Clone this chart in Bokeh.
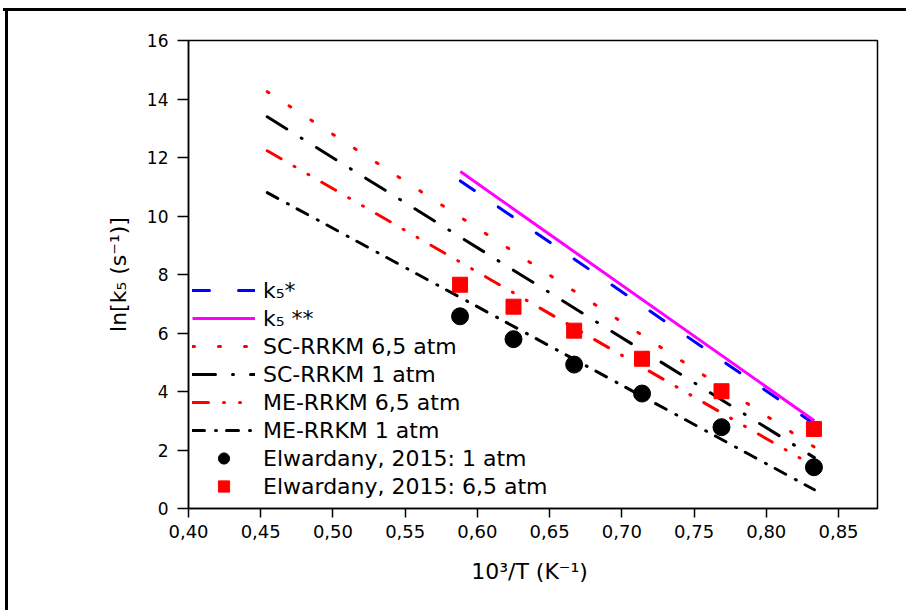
from bokeh.plotting import figure
from bokeh.models import (Range1d, FixedTicker, CustomJSTickFormatter, Legend, LegendItem, Label)
from bokeh.embed import file_html
from bokeh.resources import INLINE

# ---------------- data ----------------
x_ticks = [0.40, 0.45, 0.50, 0.55, 0.60, 0.65, 0.70, 0.75, 0.80, 0.85]
y_ticks = [0, 2, 4, 6, 8, 10, 12, 14, 16]

x_exp = [0.588, 0.625, 0.667, 0.714, 0.769, 0.833]
elw_1atm = [6.57, 5.79, 4.92, 3.93, 2.78, 1.41]
elw_65atm = [7.65, 6.90, 6.08, 5.12, 4.01, 2.72]

x_rrkm = [0.4545, 0.8333]
sc_65 = [14.25, 2.10]
sc_1 = [13.39, 1.74]
me_65 = [12.23, 1.44]
me_1 = [10.80, 0.64]

x_k5 = [0.5882, 0.8333]
k5_star = [11.20, 2.89]
k5_2star = [11.52, 3.00]

labels = ["k\u2085*", "k\u2085 **", "SC-RRKM 6,5 atm", "SC-RRKM 1 atm",
          "ME-RRKM 6,5 atm", "ME-RRKM 1 atm",
          "Elwardany, 2015: 1 atm", "Elwardany, 2015: 6,5 atm"]
caption = "temperatura e a pressão"

FONT = "DejaVu Sans"

p = figure(width=906, height=610, output_backend="svg", toolbar_location=None,
           x_range=Range1d(0.40, 0.877), y_range=Range1d(0, 16),
           min_border_left=188, min_border_right=29, min_border_top=40, min_border_bottom=102,
           background_fill_color="white", border_fill_alpha=0)

# page frame (thick black lines at top and left) drawn behind the transparent canvas border
p.styles = {
    "background": ("linear-gradient(#000, #000) 3px 8px / 903px 3px no-repeat, "
                   "linear-gradient(#000, #000) 5px 8px / 3px 602px no-repeat, #fff"),
}

p.xgrid.visible = False
p.ygrid.visible = False
p.outline_line_color = "black"
p.outline_line_width = 1.5

for ax in (p.xaxis[0], p.yaxis[0]):
    ax.axis_line_width = 1.5
    ax.major_tick_line_width = 1.5
    ax.major_tick_in = 0
    ax.minor_tick_line_color = None
    ax.major_label_text_font = FONT
    ax.major_label_text_color = "black"
    ax.axis_label_text_font = FONT
    ax.axis_label_text_font_size = "22px"
    ax.axis_label_text_font_style = "normal"
    ax.axis_label_text_color = "black"

p.xaxis.major_label_text_font_size = "18px"
p.yaxis.major_label_text_font_size = "17px"
p.xaxis.ticker = FixedTicker(ticks=x_ticks)
p.yaxis.ticker = FixedTicker(ticks=y_ticks)
p.xaxis.formatter = CustomJSTickFormatter(code="return tick.toFixed(2).replace('.', ',');")
p.xaxis.major_tick_out = 9
p.yaxis.major_tick_out = 11
p.xaxis.major_label_standoff = 7
p.yaxis.major_label_standoff = 9
p.xaxis.axis_label = "10\u00b3/T  (K\u207b\u00b9)"
p.yaxis.axis_label = "ln[k\u2085 (s\u207b\u00b9)]"
p.xaxis.axis_label_standoff = 18
p.yaxis.axis_label_standoff = 13

W = 3
r1 = p.line(x_k5, k5_star, line_color="#0000ff", line_width=W, line_dash="17 29", line_cap="round")
r2 = p.line(x_k5, k5_2star, line_color="#ff00ff", line_width=W)
r3 = p.line(x_rrkm, sc_65, line_color="#ff0000", line_width=W, line_dash="2 24", line_cap="round")
r4 = p.line(x_rrkm, sc_1, line_color="black", line_width=W, line_dash="23 17 1 17", line_cap="round")
r5 = p.line(x_rrkm, me_65, line_color="#ff0000", line_width=W, line_dash="16 15 1 15 1 15", line_cap="round")
r6 = p.line(x_rrkm, me_1, line_color="black", line_width=W, line_dash="12 11 1 10", line_cap="round")
r7 = p.scatter(x_exp, elw_1atm, marker="circle", size=17, fill_color="black", line_color="black")
r8 = p.scatter(x_exp, elw_65atm, marker="square", size=15, fill_color="#ff0000", line_color="#ff0000")

renderers = [r1, r2, r3, r4, r5, r6, r7, r8]
legend = Legend(items=[LegendItem(label=l, renderers=[r]) for l, r in zip(labels, renderers)],
                location=(4, 8), label_text_font=FONT, label_text_font_size="22px",
                label_text_color="black",
                glyph_width=63, glyph_height=28, label_height=28, spacing=0,
                padding=0, margin=0, label_standoff=8,
                border_line_alpha=0, background_fill_alpha=0)
p.add_layout(legend)

# caption fragment above the page frame
p.add_layout(Label(x=462, y=0, x_units="canvas", y_units="canvas",
                   text=caption, text_align="center",
                   text_baseline="top", text_color="#8a8a8a",
                   text_font="Liberation Serif", text_font_size="7px"))

open("out.html", "w").write(file_html(p, INLINE))
